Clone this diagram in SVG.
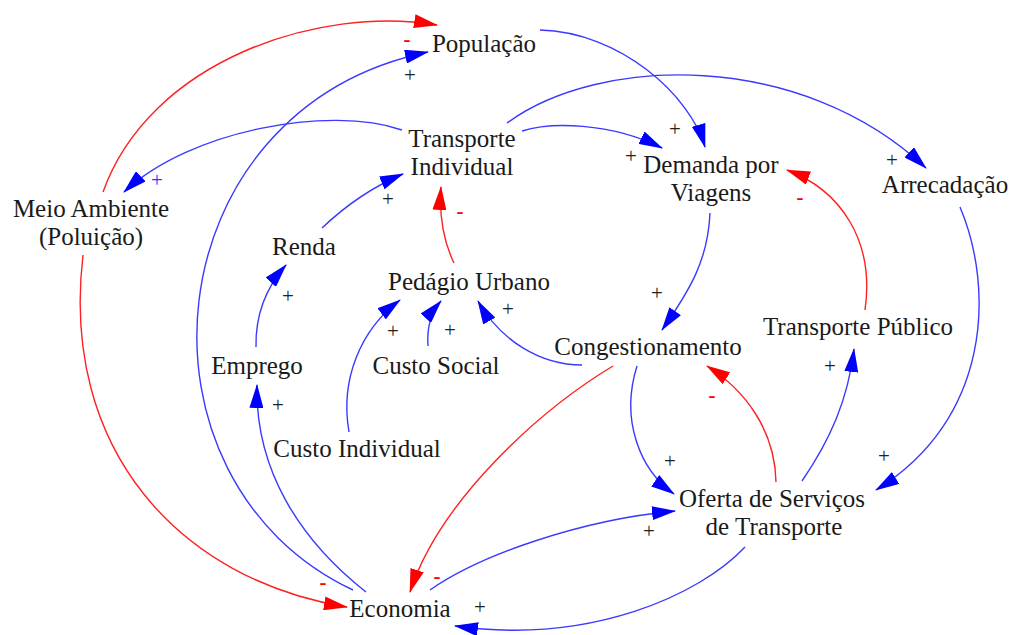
<svg xmlns="http://www.w3.org/2000/svg" width="1011" height="635" viewBox="0 0 1011 635">
<style>
text{font-family:'Liberation Serif','Times New Roman',serif}
.lbl{font-size:25px;fill:#1a1a1a;text-anchor:middle}
.sg{font-size:21px;text-anchor:middle}
.p{fill:#222}
.pb{fill:#3333ff}
.m{fill:#ff0000;font-weight:bold}
.b{fill:none;stroke:#3a3aff;stroke-width:1.4}
.r{fill:none;stroke:#ff2020;stroke-width:1.4}
</style>
<defs>
<marker id="ab" markerUnits="userSpaceOnUse" markerWidth="24" markerHeight="14" refX="23" refY="7" orient="auto"><path d="M0,0 L24,7 L0,14 z" fill="#0000ff"/></marker>
<marker id="ar" markerUnits="userSpaceOnUse" markerWidth="24" markerHeight="14" refX="23" refY="7" orient="auto"><path d="M0,0 L24,7 L0,14 z" fill="#ff0000"/></marker>
</defs>
<rect width="1011" height="635" fill="#ffffff"/>
<g id="connectors">
<path class="r" marker-end="url(#ar)" d="M103,192 C150,60 320,5 437,25"/>
<path class="b" marker-end="url(#ab)" d="M353,590 C120,480 150,110 428,52"/>
<path class="r" marker-end="url(#ar)" d="M83,255 C60,450 180,580 347,607"/>
<path class="b" marker-end="url(#ab)" d="M402,130 C330,105 190,130 124,192"/>
<path class="b" marker-end="url(#ab)" d="M322,228 Q360,192 403,174"/>
<path class="b" marker-end="url(#ab)" d="M256,347 Q255,300 286,265"/>
<path class="b" marker-end="url(#ab)" d="M366,592 C300,540 255,470 257,385"/>
<path class="r" marker-end="url(#ar)" d="M454,263 Q438,230 441,187"/>
<path class="b" marker-end="url(#ab)" d="M349,432 C340,380 360,330 400,300"/>
<path class="b" marker-end="url(#ab)" d="M428,346 Q426,318 441,301"/>
<path class="b" marker-end="url(#ab)" d="M582,365 C540,365 500,340 478,301"/>
<path class="b" marker-end="url(#ab)" d="M540,30 C620,32 690,95 705,147"/>
<path class="b" marker-end="url(#ab)" d="M522,131 C550,122 610,122 662,148"/>
<path class="b" marker-end="url(#ab)" d="M507,123 C600,55 800,50 926,168"/>
<path class="r" marker-end="url(#ar)" d="M865,310 C875,240 840,190 787,170"/>
<path class="b" marker-end="url(#ab)" d="M960,207 C995,290 990,420 876,490"/>
<path class="b" marker-end="url(#ab)" d="M710,213 C708,260 690,290 662,330"/>
<path class="b" marker-end="url(#ab)" d="M637,366 C620,420 640,470 674,494"/>
<path class="r" marker-end="url(#ar)" d="M776,482 C775,430 745,390 707,366"/>
<path class="b" marker-end="url(#ab)" d="M802,481 C830,440 848,400 854,349"/>
<path class="b" marker-end="url(#ab)" d="M430,590 C480,555 580,520 675,511"/>
<path class="r" marker-end="url(#ar)" d="M613,366 C540,410 440,500 410,592"/>
<path class="b" marker-end="url(#ab)" d="M745,547 C700,595 590,645 455,626"/>
</g>
<g id="signs">
<text class="sg m" x="407" y="46">-</text>
<text class="sg p" x="410" y="82">+</text>
<text class="sg pb" x="157" y="187">+</text>
<text class="sg p" x="388" y="206">+</text>
<text class="sg m" x="460" y="218">-</text>
<text class="sg p" x="288" y="303">+</text>
<text class="sg p" x="675" y="136">+</text>
<text class="sg p" x="631" y="163">+</text>
<text class="sg p" x="892" y="167">+</text>
<text class="sg m" x="800" y="204">-</text>
<text class="sg p" x="657" y="300">+</text>
<text class="sg p" x="508" y="316">+</text>
<text class="sg p" x="393" y="338">+</text>
<text class="sg p" x="450" y="337">+</text>
<text class="sg p" x="278" y="412">+</text>
<text class="sg m" x="323" y="589">-</text>
<text class="sg m" x="437" y="583">-</text>
<text class="sg p" x="480" y="614">+</text>
<text class="sg p" x="830" y="373">+</text>
<text class="sg m" x="712" y="402">-</text>
<text class="sg p" x="670" y="468">+</text>
<text class="sg p" x="884" y="463">+</text>
<text class="sg p" x="649" y="538">+</text>
</g>
<g id="populacao"><text class="lbl" x="484" y="52">População</text></g>
<g id="transporte-individual"><text class="lbl" x="462" y="147">Transporte</text><text class="lbl" x="462" y="175">Individual</text></g>
<g id="demanda"><text class="lbl" x="711" y="173">Demanda por</text><text class="lbl" x="711" y="201">Viagens</text></g>
<g id="arrecadacao"><text class="lbl" x="945" y="193">Arrecadação</text></g>
<g id="meio-ambiente"><text class="lbl" x="91" y="217">Meio Ambiente</text><text class="lbl" x="91" y="245">(Poluição)</text></g>
<g id="renda"><text class="lbl" x="304" y="255">Renda</text></g>
<g id="pedagio"><text class="lbl" x="469" y="290">Pedágio Urbano</text></g>
<g id="emprego"><text class="lbl" x="257" y="374">Emprego</text></g>
<g id="custo-social"><text class="lbl" x="436" y="374">Custo Social</text></g>
<g id="custo-individual"><text class="lbl" x="357" y="457">Custo Individual</text></g>
<g id="congestionamento"><text class="lbl" x="648" y="355">Congestionamento</text></g>
<g id="transporte-publico"><text class="lbl" x="858" y="335">Transporte Público</text></g>
<g id="oferta"><text class="lbl" x="772" y="507">Oferta de Serviços</text><text class="lbl" x="774" y="535">de Transporte</text></g>
<g id="economia"><text class="lbl" x="400" y="617">Economia</text></g>
</svg>
